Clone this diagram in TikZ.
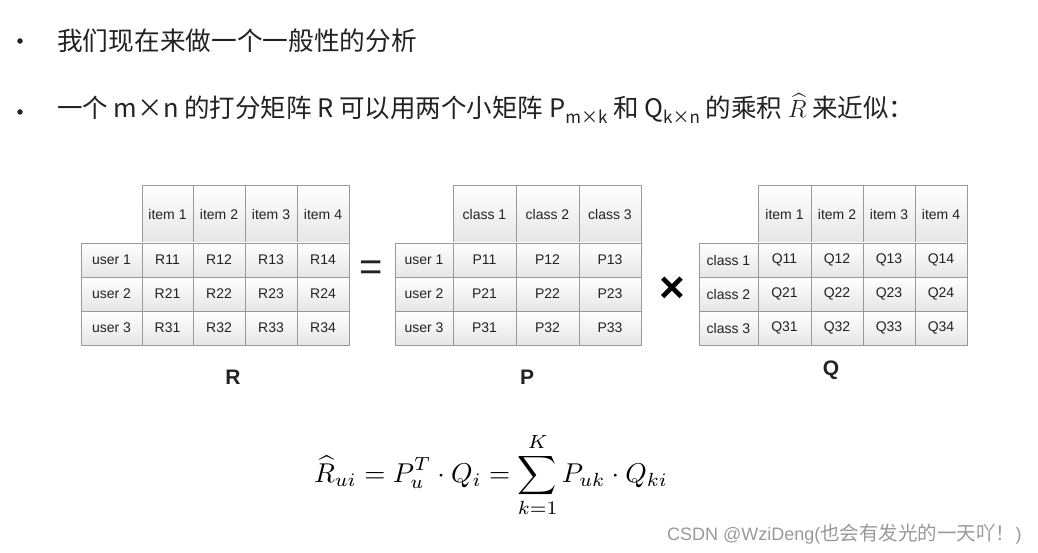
\documentclass[tikz,border=0pt]{standalone}
\usepackage{amsmath}
\usepackage{graphicx}
\usepackage{fontspec}
\newfontfamily\cjk{Noto Sans CJK SC}
\newfontfamily\tabfont{Liberation Sans}
\definecolor{txtgray}{HTML}{222222}
\definecolor{linegray}{HTML}{999999}
\definecolor{cellbot}{HTML}{E6E6E6}
\tikzset{
  cell/.style={draw=linegray, line width=0.9pt, top color=white, bottom color=cellbot,
    inner sep=0pt, outer sep=0pt, minimum width=#1pt, minimum height=34pt,
    text=txtgray, font=\tabfont\fontsize{14}{15}\selectfont},
  head/.style={cell=#1, minimum height=58pt},
  dot/.style={circle, fill=txtgray, inner sep=0pt, minimum size=5.5pt},
  textline/.style={anchor=base west, inner sep=0pt, text=txtgray, font=\cjk\fontsize{25.7}{30}\selectfont},
  matname/.style={text=txtgray, font=\tabfont\bfseries\fontsize{21}{24}\selectfont},
}
\newcommand{\subs}[1]{\raisebox{-6pt}{\fontsize{17}{18}\selectfont #1}}

\begin{document}
\begin{tikzpicture}[x=1pt,y=-1pt]
\useasboundingbox (0,0) rectangle (1038,553);

% two bullet lines
\node[dot] (b1) at (20,41) {};
\node[textline] (line1) at (57,50.5) {我们现在来做一个一般性的分析};

\node[dot] (b2) at (20,112) {};
\node[textline, font=\cjk\fontsize{25.5}{30}\selectfont] (line2) at (57,117.5) {一个 m×n 的打分矩阵 R 可以用两个小矩阵 P\subs{m×k} 和 Q\subs{k×n} 的乘积 $\widehat{R}$ 来近似：};


% table R
\begin{scope}[shift={(81,185)}]

\node[head=51] (rh1) at (86.5,29) {item 1};
\node[head=52] (rh2) at (138,29) {item 2};
\node[head=52] (rh3) at (190,29) {item 3};
\node[head=52] (rh4) at (242,29) {item 4};

\node[cell=61] (ru1) at (30.5,75) {user 1};
\node[cell=51] (r11) at (86.5,75) {R11};
\node[cell=52] (r12) at (138,75) {R12};
\node[cell=52] (r13) at (190,75) {R13};
\node[cell=52] (r14) at (242,75) {R14};

\node[cell=61] (ru2) at (30.5,109) {user 2};
\node[cell=51] (r21) at (86.5,109) {R21};
\node[cell=52] (r22) at (138,109) {R22};
\node[cell=52] (r23) at (190,109) {R23};
\node[cell=52] (r24) at (242,109) {R24};

\node[cell=61] (ru3) at (30.5,143) {user 3};
\node[cell=51] (r31) at (86.5,143) {R31};
\node[cell=52] (r32) at (138,143) {R32};
\node[cell=52] (r33) at (190,143) {R33};
\node[cell=52] (r34) at (242,143) {R34};

\node[matname] (labR) at (152,192) {R};

\end{scope}

\node[text=txtgray, font=\tabfont\fontsize{40}{40}\selectfont] (eq) at (371,271) {=};


% table P
\begin{scope}[shift={(395,185)}]

\node[head=63] (ph1) at (89.5,29) {class 1};
\node[head=63] (ph2) at (152.5,29) {class 2};
\node[head=62] (ph3) at (215,29) {class 3};

\node[cell=58] (pu1) at (29,75) {user 1};
\node[cell=63] (p11) at (89.5,75) {P11};
\node[cell=63] (p12) at (152.5,75) {P12};
\node[cell=62] (p13) at (215,75) {P13};

\node[cell=58] (pu2) at (29,109) {user 2};
\node[cell=63] (p21) at (89.5,109) {P21};
\node[cell=63] (p22) at (152.5,109) {P22};
\node[cell=62] (p23) at (215,109) {P23};

\node[cell=58] (pu3) at (29,143) {user 3};
\node[cell=63] (p31) at (89.5,143) {P31};
\node[cell=63] (p32) at (152.5,143) {P32};
\node[cell=62] (p33) at (215,143) {P33};

\node[matname] (labP) at (132,192) {P};

\end{scope}

\node[text=black, font=\tabfont\bfseries\fontsize{44}{44}\selectfont] (times) at (672,290) {×};


% table Q
\begin{scope}[shift={(699,185)}]

\node[head=53] (qh1) at (85.5,29) {item 1};
\node[head=52] (qh2) at (138,29) {item 2};
\node[head=52] (qh3) at (190,29) {item 3};
\node[head=52] (qh4) at (242,29) {item 4};

\node[cell=59] (qc1) at (29.5,75) {class 1};
\node[cell=53] (q11) at (85.5,75) {Q11};
\node[cell=52] (q12) at (138,75) {Q12};
\node[cell=52] (q13) at (190,75) {Q13};
\node[cell=52] (q14) at (242,75) {Q14};

\node[cell=59] (qc2) at (29.5,109) {class 2};
\node[cell=53] (q21) at (85.5,109) {Q21};
\node[cell=52] (q22) at (138,109) {Q22};
\node[cell=52] (q23) at (190,109) {Q23};
\node[cell=52] (q24) at (242,109) {Q24};

\node[cell=59] (qc3) at (29.5,143) {class 3};
\node[cell=53] (q31) at (85.5,143) {Q31};
\node[cell=52] (q32) at (138,143) {Q32};
\node[cell=52] (q33) at (190,143) {Q33};
\node[cell=52] (q34) at (242,143) {Q34};

\node[matname] (labQ) at (132,185) {Q};

\end{scope}


% formula
\node (formula) at (491,475)
  {\scalebox{2.72}{$\displaystyle \widehat{R}_{ui} = P_u^T \cdot Q_i = \sum_{k=1}^{K} P_{uk} \cdot Q_{ki}$}};

\node[anchor=base west, inner sep=0pt, text=gray!80] (mark) at (667,540)
  {{\tabfont\fontsize{18}{20}\selectfont CSDN @WziDeng(}{\cjk\fontsize{19.5}{22}\selectfont 也会有发光的一天吖！}{\tabfont\fontsize{18}{20}\selectfont )}};

\end{tikzpicture}
\end{document}
